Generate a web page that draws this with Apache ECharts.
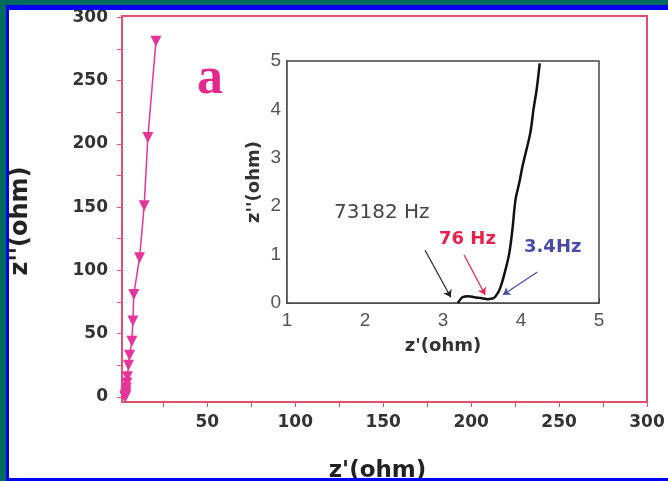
<!DOCTYPE html>
<html><head><meta charset="utf-8">
<script src="https://cdn.jsdelivr.net/npm/echarts@6/dist/echarts.min.js"></script>
<style>html,body{margin:0;padding:0;background:#fff}#c{width:668px;height:481px}</style>
</head><body><div id="c"></div>
<script>
// main Nyquist data (z', z'')
const mainX = [20.8, 16.2, 14.1, 11.5, 8.2, 7.7, 7.1, 5.8, 5.2, 4.6, 4.3, 4.0, 3.8, 3.6, 3.5, 3.4, 3.3, 3.2];
const mainY = [281, 205, 151, 110, 81, 60, 44, 33, 25, 16, 11, 7, 4.5, 2.5, 1.2, 0.4, 0.1, 0.0];
// inset data
const insetX = [3.19, 3.25, 3.33, 3.40, 3.50, 3.57, 3.65, 3.70, 3.74, 3.80, 3.85, 3.89, 3.93, 3.98, 4.02, 4.12, 4.16, 4.20, 4.24];
const insetY = [0.0, 0.12, 0.14, 0.12, 0.10, 0.08, 0.10, 0.2, 0.34, 0.68, 1.03, 1.52, 2.14, 2.5, 2.83, 3.52, 4.0, 4.4, 4.95];
const mainXTicks = [50, 100, 150, 200, 250, 300];
const mainXMinor = [25, 50, 75, 100, 125, 150, 175, 200, 225, 250, 275, 300];
const mainYTicks = [0, 50, 100, 150, 200, 250, 300];
const mainYMinor = [0, 25, 50, 75, 100, 125, 150, 175, 200, 225, 250, 275, 300];
// annotation labels and arrows
const annTexts = ['73182 Hz', '76 Hz', '3.4Hz'];
const arrows = [
  [[2.77, 1.09], [3.10, 0.12]],
  [[3.27, 0.99], [3.54, 0.17]],
  [[4.21, 0.64], [3.77, 0.17]]
];
const arrowColors = ['#222', '#e8204a', '#4a4aa8'];

const pink = '#e0506e';
const mpink = '#e5349a';
const DV = '"DejaVu Sans", Arial, sans-serif';
const chart = echarts.init(document.getElementById('c'));
const lblMain = {fontFamily: DV, fontWeight: 'bold', fontSize: 17, color: '#333'};
const lblIn = {fontFamily: 'Liberation Sans, Arial', fontSize: 19, color: '#555'};
chart.setOption({
  backgroundColor: '#fff',
  animation: false,
  graphic: [
    {type: 'rect', shape: {x: 0, y: 0, width: 668, height: 6}, style: {fill: '#006a5e'}, z: 100},
    {type: 'rect', shape: {x: 0, y: 0, width: 6, height: 481}, style: {fill: '#006a5e'}, z: 100},
    {type: 'rect', shape: {x: 6, y: 5, width: 662, height: 5}, style: {fill: '#0000f0'}, z: 100},
    {type: 'rect', shape: {x: 6, y: 5, width: 3, height: 476}, style: {fill: '#0000f0'}, z: 100},
    {type: 'rect', shape: {x: 6, y: 478, width: 662, height: 3}, style: {fill: '#0000f0'}, z: 100},
    {type: 'text', left: 197, top: 54, style: {text: 'a', font: 'bold 52px "Liberation Serif", serif', fill: '#e5288c'}, z: 50},
    {type: 'text', left: 334, top: 203, style: {text: annTexts[0], font: '20px ' + DV, fill: '#444'}, z: 50},
    {type: 'text', left: 439, top: 230, style: {text: annTexts[1], font: 'bold 18px ' + DV, fill: '#e8204a'}, z: 50},
    {type: 'text', left: 524, top: 238, style: {text: annTexts[2], font: 'bold 18px ' + DV, fill: '#4a4aa8'}, z: 50},
    {type: 'text', x: 21, y: 221, rotation: Math.PI / 2, z: 50,
     style: {text: "z''(ohm)", font: 'bold 24px ' + DV, fill: '#222', align: 'center', verticalAlign: 'middle'}}
  ],
  grid: [
    {left: 122, right: 21, top: 16, bottom: 79, show: true, borderColor: pink, borderWidth: 2, backgroundColor: '#fff', outerBoundsMode: 'none', containLabel: false},
    {left: 287, right: 69, top: 61, bottom: 178, show: true, borderColor: '#444', borderWidth: 1.5, backgroundColor: '#fff', z: 5, outerBoundsMode: 'none', containLabel: false}
  ],
  xAxis: [
    {gridIndex: 0, type: 'value', min: 1.5, max: 300,
     axisLine: {onZero: false, lineStyle: {color: pink, width: 2}},
     axisTick: {show: true, length: 5, customValues: mainXMinor, lineStyle: {color: pink}},
     splitLine: {show: false},
     axisLabel: Object.assign({margin: 12, customValues: mainXTicks}, lblMain),
     name: "z'(ohm)", nameLocation: 'middle', nameGap: 58,
     nameTextStyle: {fontFamily: DV, fontWeight: 'bold', fontSize: 23, color: '#222', padding: [0, 14, 0, 0]}},
    {gridIndex: 1, type: 'value', min: 1, max: 5, interval: 1,
     axisLine: {onZero: false, lineStyle: {color: '#444', width: 1.5}}, axisTick: {inside: true, length: 5, lineStyle: {color: '#444'}},
     minorTick: {show: true, splitNumber: 2, length: 3, lineStyle: {color: '#444'}}, splitLine: {show: false},
     axisLabel: Object.assign({margin: 8}, lblIn),
     name: "z'(ohm)", nameLocation: 'middle', nameGap: 34,
     nameTextStyle: {fontFamily: DV, fontWeight: 'bold', fontSize: 18, color: '#333'}}
  ],
  yAxis: [
    {gridIndex: 0, type: 'value', min: -4, max: 301,
     axisLine: {onZero: false, lineStyle: {color: pink, width: 2}},
     axisTick: {show: true, length: 5, customValues: mainYMinor, lineStyle: {color: pink}},
     splitLine: {show: false},
     axisLabel: Object.assign({margin: 14, customValues: mainYTicks}, lblMain)},
    {gridIndex: 1, type: 'value', min: 0, max: 5, interval: 1,
     axisLine: {onZero: false, lineStyle: {color: '#444', width: 1.5}}, axisTick: {inside: true, length: 5, lineStyle: {color: '#444'}},
     minorTick: {show: true, splitNumber: 2, length: 3, lineStyle: {color: '#444'}}, splitLine: {show: false},
     axisLabel: Object.assign({margin: 6}, lblIn),
     name: "z''(ohm)", nameLocation: 'middle', nameGap: 24,
     nameTextStyle: {fontFamily: DV, fontWeight: 'bold', fontSize: 18, color: '#333'}}
  ],
  series: [
    {type: 'line', xAxisIndex: 0, yAxisIndex: 0, data: mainX.map((x, i) => [x, mainY[i]]),
     symbol: 'triangle', symbolRotate: 180, symbolSize: 11, showAllSymbol: true,
     lineStyle: {color: mpink, width: 1.5}, itemStyle: {color: mpink}},
    {type: 'line', xAxisIndex: 1, yAxisIndex: 1, data: insetX.map((x, i) => [x, insetY[i]]),
     symbol: 'none', smooth: 0.3, lineStyle: {color: '#111', width: 2.5}, z: 10,
     markLine: {silent: true, symbol: ['none', 'arrow'], symbolSize: 7, label: {show: false},
       data: arrows.map((a, i) => [
         {coord: a[0], lineStyle: {color: arrowColors[i], width: 1.2, type: 'solid'}},
         {coord: a[1]}
       ])}}
  ]
});
</script></body></html>
